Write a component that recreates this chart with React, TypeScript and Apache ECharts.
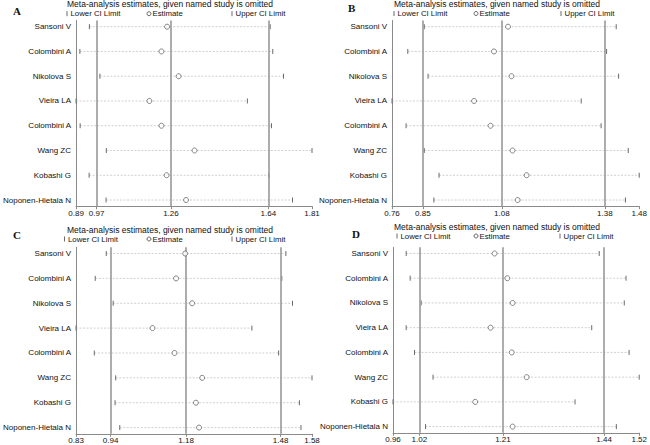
import React, { useEffect, useRef } from "react";
import * as echarts from "echarts";

const studies = [
  "Sansoni V",
  "Colombini A",
  "Nikolova S",
  "Vieira LA",
  "Colombini A",
  "Wang ZC",
  "Kobashi G",
  "Noponen-Hietala N",
];

// Panel A
const aLower = [0.942, 0.905, 0.983, 0.89, 0.906, 1.008, 0.941, 1.007];
const aEst = [1.245, 1.223, 1.29, 1.176, 1.223, 1.352, 1.243, 1.319];
const aUpper = [1.647, 1.657, 1.699, 1.558, 1.652, 1.81, 1.642, 1.734];
const aTicks = [0.89, 0.97, 1.26, 1.64, 1.81];
const aRef = [0.97, 1.26, 1.64];

// Panel B
const bLower = [0.854, 0.806, 0.865, 0.76, 0.801, 0.854, 0.897, 0.882];
const bEst = [1.098, 1.057, 1.108, 0.999, 1.047, 1.111, 1.152, 1.126];
const bUpper = [1.413, 1.385, 1.42, 1.311, 1.369, 1.448, 1.48, 1.44];
const bTicks = [0.76, 0.85, 1.08, 1.38, 1.48];
const bRef = [0.85, 1.08, 1.38];

// Panel C
const cLower = [0.926, 0.891, 0.948, 0.83, 0.888, 0.956, 0.954, 0.969];
const cEst = [1.177, 1.148, 1.199, 1.073, 1.143, 1.231, 1.211, 1.221];
const cUpper = [1.497, 1.484, 1.518, 1.389, 1.474, 1.58, 1.54, 1.545];
const cTicks = [0.83, 0.94, 1.18, 1.48, 1.58];
const cRef = [0.94, 1.18, 1.48];

// Panel D
const dLower = [0.99, 0.999, 1.024, 0.99, 1.009, 1.051, 0.96, 1.034];
const dEst = [1.191, 1.22, 1.232, 1.182, 1.23, 1.264, 1.147, 1.232];
const dUpper = [1.429, 1.49, 1.486, 1.412, 1.497, 1.52, 1.374, 1.468];
const dTicks = [0.96, 1.02, 1.21, 1.44, 1.52];
const dRef = [1.02, 1.21, 1.44];

const panelLetters = ["A", "B", "C", "D"];
const titleText = "Meta-analysis estimates, given named study is omitted";
const legendLabels = ["Lower CI Limit", "Estimate", "Upper CI Limit"];

const FONT = '"Liberation Sans", Arial, sans-serif';

export default function App() {
  const ref = useRef<HTMLDivElement>(null);

  useEffect(() => {
    if (!ref.current) return;
    const chart = echarts.init(ref.current, null, { renderer: "svg" });

    const panels = [
      { lower: aLower, est: aEst, upper: aUpper, ticks: aTicks, refs: aRef,
        grid: { left: 65, top: 20.5, width: 247, height: 185.7 },
        letter: [13, 11], title: [67, 4], legend: [66, 147, 231], legendY: 13.7 },
      { lower: bLower, est: bEst, upper: bUpper, ticks: bTicks, refs: bRef,
        grid: { left: 392, top: 20.5, width: 248, height: 185.7 },
        letter: [348, 8], title: [394, 4], legend: [393, 474, 560], legendY: 13.5 },
      { lower: cLower, est: cEst, upper: cUpper, ticks: cTicks, refs: cRef,
        grid: { left: 65, top: 247.3, width: 247, height: 186.5 },
        letter: [13, 235], title: [67, 230], legend: [63.5, 147, 231], legendY: 239 },
      { lower: dLower, est: dEst, upper: dUpper, ticks: dTicks, refs: dRef,
        grid: { left: 393, top: 247.3, width: 247, height: 185.5 },
        letter: [352, 234], title: [394, 227], legend: [396, 474, 559], legendY: 236 },
    ];

    const grids: any[] = [];
    const xAxes: any[] = [];
    const yAxes: any[] = [];
    const series: any[] = [];
    const graphics: any[] = [];

    panels.forEach((p, i) => {
      grids.push({ ...p.grid, containLabel: false });
      xAxes.push({
        type: "value",
        gridIndex: i,
        min: p.ticks[0],
        max: p.ticks[p.ticks.length - 1],
        axisLine: { show: true, onZero: false, lineStyle: { color: "#8a8a8a", width: 1 } },
        axisTick: { show: true, length: 3, inside: false, customValues: p.ticks, lineStyle: { color: "#8a8a8a" } },
        axisLabel: {
          customValues: p.ticks,
          formatter: (v: number) => v.toFixed(2),
          fontFamily: FONT,
          fontSize: 8,
          color: "#111",
          margin: 3,
        },
        splitLine: { show: false },
      });
      yAxes.push({
        type: "value",
        gridIndex: i,
        inverse: true,
        min: -0.25,
        max: 7.25,
        axisLine: { show: true, onZero: false, lineStyle: { color: "#8a8a8a", width: 1 } },
        axisTick: { show: false },
        axisLabel: {
          customValues: studies.map((_, k) => k),
          formatter: (v: number) => studies[Math.round(v)] ?? "",
          fontFamily: FONT,
          fontSize: 8,
          color: "#111",
          margin: 5,
        },
        splitLine: { show: false },
      });

      series.push({
        type: "custom",
        xAxisIndex: i,
        yAxisIndex: i,
        encode: { x: [1, 2], y: 0 },
        data: studies.map((_, k) => [k, p.lower[k], p.upper[k]]),
        renderItem: (params: any, api: any) => {
          const row = api.value(0);
          const lo = api.coord([api.value(1), row]);
          const hi = api.coord([api.value(2), row]);
          return {
            type: "group",
            children: [
              {
                type: "line",
                shape: { x1: lo[0], y1: lo[1], x2: hi[0], y2: hi[1] },
                style: { stroke: "#c4c4c4", lineWidth: 0.8, lineDash: [2, 1.5] },
              },
              {
                type: "line",
                shape: { x1: lo[0], y1: lo[1] - 2.5, x2: lo[0], y2: lo[1] + 2.5 },
                style: { stroke: "#6a6a6a", lineWidth: 1 },
              },
              {
                type: "line",
                shape: { x1: hi[0], y1: hi[1] - 2.5, x2: hi[0], y2: hi[1] + 2.5 },
                style: { stroke: "#6a6a6a", lineWidth: 1 },
              },
            ],
          };
        },
        z: 2,
      });

      series.push({
        type: "scatter",
        xAxisIndex: i,
        yAxisIndex: i,
        symbol: "circle",
        symbolSize: 5,
        itemStyle: { color: "#ffffff", borderColor: "#555555", borderWidth: 0.9 },
        data: studies.map((_, k) => [p.est[k], k]),
        z: 4,
        markLine: {
          silent: true,
          symbol: "none",
          label: { show: false },
          lineStyle: { color: "#999999", width: 1.6, type: "solid" },
          data: p.refs.map((r) => ({ xAxis: r })),
          z: 3,
        },
      });

      graphics.push({
        type: "text",
        x: p.letter[0],
        y: p.letter[1],
        style: {
          text: panelLetters[i],
          font: 'bold 11px "Liberation Serif", "Times New Roman", serif',
          fill: "#111",
          verticalAlign: "middle",
          align: "left",
        },
      });
      graphics.push({
        type: "text",
        x: p.title[0],
        y: p.title[1],
        style: {
          text: titleText,
          font: `8.5px ${FONT}`,
          fill: "#111",
          verticalAlign: "middle",
          align: "left",
        },
      });
      const ly = p.legendY;
      const lf = `7.8px ${FONT}`;
      graphics.push({
        type: "line",
        shape: { x1: p.legend[0] + 1, y1: ly - 2.5, x2: p.legend[0] + 1, y2: ly + 2.5 },
        style: { stroke: "#6a6a6a", lineWidth: 1 },
      });
      graphics.push({
        type: "text",
        x: p.legend[0] + 4.5,
        y: ly,
        style: { text: legendLabels[0], font: lf, fill: "#111", verticalAlign: "middle" },
      });
      graphics.push({
        type: "circle",
        shape: { cx: p.legend[1] + 2, cy: ly, r: 2 },
        style: { fill: "#fff", stroke: "#555", lineWidth: 0.9 },
      });
      graphics.push({
        type: "text",
        x: p.legend[1] + 5.5,
        y: ly,
        style: { text: legendLabels[1], font: lf, fill: "#111", verticalAlign: "middle" },
      });
      graphics.push({
        type: "line",
        shape: { x1: p.legend[2] + 1, y1: ly - 2.5, x2: p.legend[2] + 1, y2: ly + 2.5 },
        style: { stroke: "#6a6a6a", lineWidth: 1 },
      });
      graphics.push({
        type: "text",
        x: p.legend[2] + 4.5,
        y: ly,
        style: { text: legendLabels[2], font: lf, fill: "#111", verticalAlign: "middle" },
      });
    });

    chart.setOption({
      animation: false,
      backgroundColor: "#ffffff",
      grid: grids,
      xAxis: xAxes,
      yAxis: yAxes,
      series,
      graphic: graphics,
    });

    return () => chart.dispose();
  }, []);

  return (
    <div
      ref={ref}
      style={{ position: "absolute", left: 0, top: 0, width: 650, height: 445 }}
    />
  );
}
